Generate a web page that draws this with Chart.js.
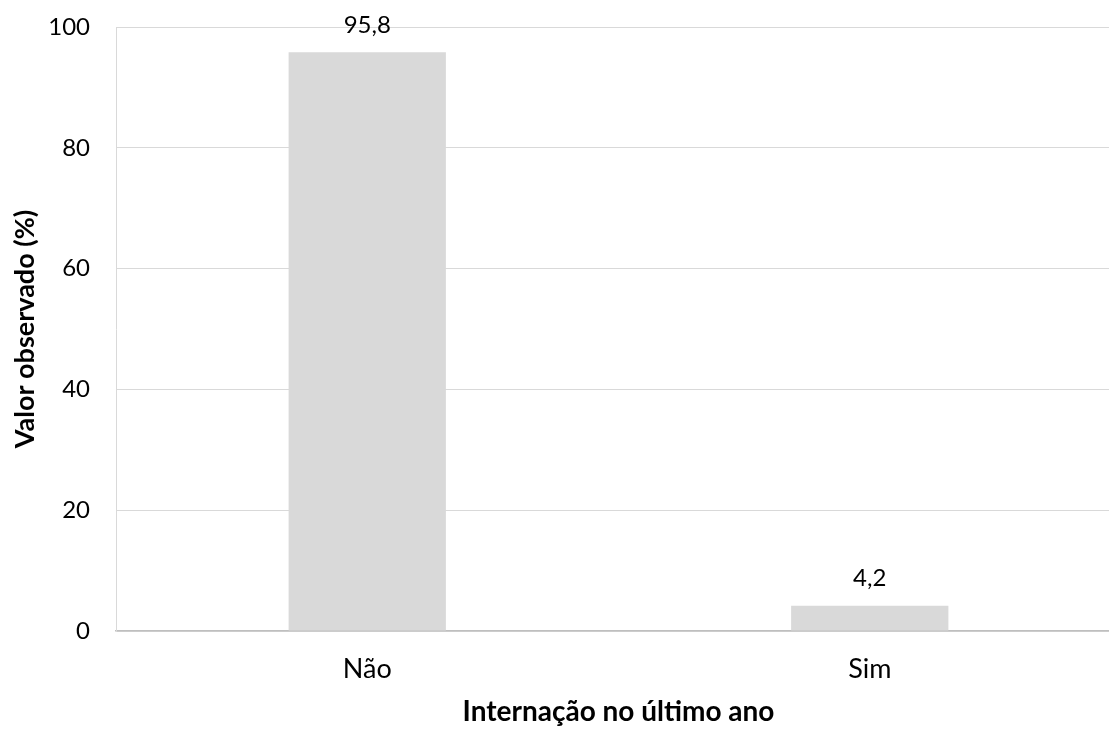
<!DOCTYPE html>
<html>
<head>
<meta charset="utf-8">
<script src="https://cdn.jsdelivr.net/npm/chart.js@4.4.1/dist/chart.umd.min.js"></script>
<style>
	html, body { margin:0; padding:0; background:#ffffff; overflow:hidden; }
	#caja { position:absolute; left:0; top:0; width:1125px; height:729px; }
</style>
</head>
<body>
<div id="caja"><canvas id="canva"></canvas></div>
<script>
// datos
let categorias = ['Não', 'Sim'];
let valores = [95.8, 4.2];
let etiquetas = ['95,8', '4,2'];
let ticks_y = [0, 20, 40, 60, 80, 100];

let fuente = 'Lato, "Open Sans", sans-serif';

// dibuja el valor arriba de cada barra
const plugin_etiquetas = {
	id:'etiquetas',
	afterDatasetsDraw(chart){
		let ctx = chart.ctx;
		let meta = chart.getDatasetMeta(0);
		ctx.save();
		ctx.font = `24px ${fuente}`;
		ctx.fillStyle = '#000000';
		ctx.textAlign = 'center';
		ctx.textBaseline = 'middle';
		meta.data.forEach((barra,i)=>{
			ctx.fillText(etiquetas[i], barra.x, barra.y - 27);
		});
		ctx.restore();
	}
};

const ctx = document.getElementById('canva').getContext('2d');
const grafico = new Chart(ctx, {
	type:'bar',
	data:{
		labels: categorias,
		datasets:[{
			data: valores,
			backgroundColor:'#d9d9d9',
			borderWidth:0,
			categoryPercentage:1,
			barPercentage:0.313
		}]
	},
	options:{
		responsive:true,
		maintainAspectRatio:false,
		animation:false,
		layout:{ padding:{ top:27, right:4, left:0, bottom:0 } },
		plugins:{
			legend:{ display:false },
			tooltip:{ enabled:false }
		},
		scales:{
			x:{
				grid:{ display:false, drawTicks:false },
				border:{ color:'#bfbfbf', width:1.5 },
				ticks:{ color:'#000000', font:{ family:fuente, size:27 }, padding:22 },
				title:{ display:true, text:'Internação no último ano', color:'#000000',
					font:{ family:fuente, size:28, weight:'bold' }, padding:0 },
				afterFit(escala){ escala.height = 98; }
			},
			y:{
				min:0,
				max:100,
				afterBuildTicks(escala){ escala.ticks = ticks_y.map(v=>({value:v})); },
				grid:{ color:'#d9d9d9', drawTicks:false },
				border:{ color:'#d9d9d9' },
				ticks:{ color:'#000000', font:{ family:fuente, size:24 }, padding:26 },
				title:{ display:true, text:'Valor observado (%)', color:'#000000',
					font:{ family:fuente, size:27, weight:'bold' }, padding:{ top:9, bottom:0 } },
				afterFit(escala){
					escala.width = 116;
					escala.paddingTop = 0;
					escala.paddingBottom = 0;
				}
			}
		}
	},
	plugins:[plugin_etiquetas]
});
</script>
</body>
</html>
